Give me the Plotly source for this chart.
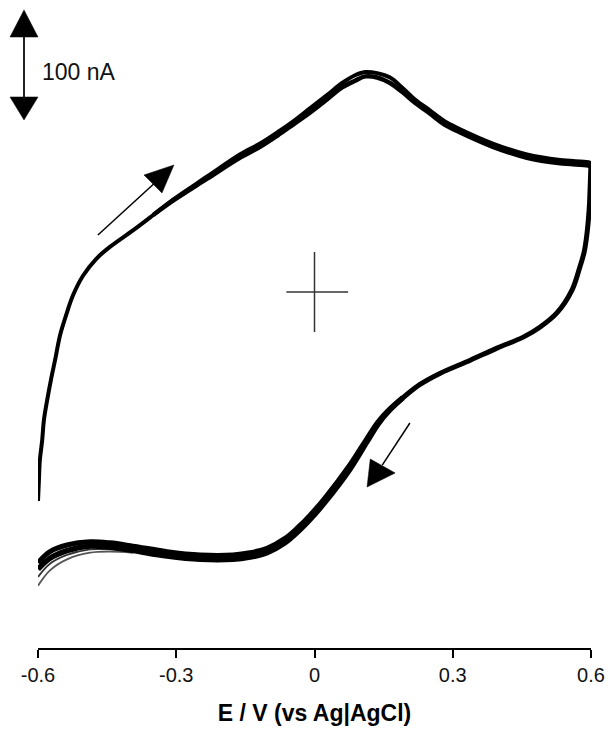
import plotly.graph_objects as go

# Potential (V vs Ag|AgCl) and current (nA) - forward (anodic) scan
E_fwd = [-0.600, -0.598, -0.596, -0.591, -0.587, -0.580, -0.572, -0.563, -0.552, -0.539,
         -0.524, -0.502, -0.474, -0.444, -0.394, -0.350, -0.307, -0.233, -0.162, -0.118,
         -0.081, -0.047, -0.010, 0.027, 0.060, 0.088, 0.110, 0.136, 0.164, 0.190,
         0.218, 0.251, 0.283, 0.316, 0.387, 0.461, 0.533, 0.594, 0.600]
I_fwd = [-190, -171, -153, -135, -116, -98, -80, -62, -39, -21,
         -3, 15, 30, 41, 56, 70, 84, 105, 125, 135,
         145, 155, 167, 179, 190, 197, 200, 199, 195, 186,
         175, 165, 155, 148, 135, 125, 120, 118, 117]

# another (overlapping) forward cycle
E_fwd2 = [-0.350, -0.307, -0.233, -0.162, -0.118, -0.081, -0.047, -0.010, 0.027, 0.060,
          0.088, 0.110, 0.136, 0.164, 0.190, 0.218, 0.251, 0.283, 0.316, 0.387,
          0.461, 0.533, 0.594, 0.600]
I_fwd2 = [70, 83, 103, 122, 132, 142, 152, 163, 175, 186,
          192, 196, 195, 190, 182, 172, 162, 152, 145, 132,
          122, 117, 115, 114]

# Reverse (cathodic) scan
E_rev = [0.600, 0.598, 0.596, 0.591, 0.585, 0.576, 0.559, 0.526, 0.489, 0.453,
         0.396, 0.338, 0.272, 0.229, 0.192, 0.164, 0.138, 0.114, 0.077,
         0.023, -0.010, -0.036, -0.064, -0.103, -0.140, -0.177, -0.248, -0.320,
         -0.394, -0.444, -0.487, -0.537, -0.574, -0.600]
I_rev = [117, 93, 75, 52, 36, 23, 2, -19, -32, -41,
         -51, -62, -74, -84, -96, -106, -118, -133, -157,
         -187, -203, -214, -224, -233, -237, -239, -239, -236,
         -231, -228, -227, -230, -236, -246]

# another (overlapping) reverse cycle
E_rev2 = [0.192, 0.164, 0.138, 0.114, 0.077, 0.023, -0.010, -0.036,
          -0.064, -0.103, -0.140, -0.177, -0.248, -0.320, -0.394, -0.444, -0.487, -0.537,
          -0.574, -0.600]
I_rev2 = [-96, -107, -120, -136, -161, -191, -207, -218,
          -228, -237, -241, -243, -243, -240, -235, -232, -231, -235,
          -242, -252]

# diverging tails of the remaining cycles near -0.6 V
E_tail = [-0.394, -0.444, -0.487, -0.537, -0.574, -0.600]
I_tail_a = [-236, -234, -234, -239, -247, -259]
I_tail_b = [-237, -236, -237, -243, -253, -267]

x_ticks = [-0.6, -0.3, 0, 0.3, 0.6]
x_ticklabels = ["-0.6", "-0.3", "0", "0.3", "0.6"]

fig = go.Figure()
def add_line(x, y, width, color="black"):
    fig.add_trace(go.Scatter(x=x, y=y, mode="lines", hoverinfo="skip",
                             line=dict(color=color, width=width, shape="spline", smoothing=1.0),
                             showlegend=False))

for It, col in ((I_tail_b, "#555"), (I_tail_a, "#333")):
    add_line(E_tail, It, 1.8, col)
add_line(E_fwd2, I_fwd2, 4.5)
add_line(E_fwd, I_fwd, 4)
add_line(E_rev2, I_rev2, 5.5)
add_line(E_rev, I_rev, 5)

shapes = []
# origin cross
shapes.append(dict(type="line", xref="x", yref="y", x0=-0.061, x1=0.073, y0=0, y1=0,
                   line=dict(color="#333", width=1.5)))
shapes.append(dict(type="line", xref="x", yref="y", x0=0, x1=0, y0=-36.4, y1=36.4,
                   line=dict(color="#333", width=1.5)))
# scan direction arrows
shapes.append(dict(type="line", xref="x", yref="y", x0=-0.470, y0=51.8, x1=-0.349, y1=98.2,
                   line=dict(color="black", width=1.5)))
shapes.append(dict(type="path", xref="x", yref="y",
                   path="M -0.370,106.4 L -0.305,115.5 L -0.331,90.0 Z",
                   fillcolor="black", line=dict(color="black", width=0.5)))
shapes.append(dict(type="line", xref="x", yref="y", x0=0.207, y0=-119.1, x1=0.147, y1=-157.3,
                   line=dict(color="black", width=1.5)))
shapes.append(dict(type="path", xref="x", yref="y",
                   path="M 0.121,-151.8 L 0.114,-177.3 L 0.175,-164.5 Z",
                   fillcolor="black", line=dict(color="black", width=0.5)))
# 100 nA scale bar
shapes.append(dict(type="line", xref="paper", yref="y", x0=-0.0253, x1=-0.0253, y0=231.8, y1=177.3,
                   line=dict(color="#222", width=2)))
shapes.append(dict(type="path", xref="paper", yref="y",
                   path="M -0.0253,256.4 L -0.0506,231.8 L 0.0,231.8 Z",
                   fillcolor="black", line=dict(color="black", width=0.5)))
shapes.append(dict(type="path", xref="paper", yref="y",
                   path="M -0.0253,156.4 L -0.0506,177.3 L 0.0,177.3 Z",
                   fillcolor="black", line=dict(color="black", width=0.5)))

fig.update_layout(
    width=608, height=736,
    margin=dict(l=38, r=17, t=0, b=88),
    paper_bgcolor="white", plot_bgcolor="white",
    font=dict(family="Liberation Sans, Arial, sans-serif", color="black"),
    shapes=shapes,
    annotations=[dict(text="100 nA", xref="paper", yref="y", x=0.004, y=200,
                      xanchor="left", yanchor="middle", showarrow=False,
                      font=dict(size=23, color="#111"))],
    xaxis=dict(range=[-0.6, 0.6], tickvals=x_ticks, ticktext=x_ticklabels,
               showline=True, linecolor="black", linewidth=2, ticks="outside",
               ticklen=8, tickwidth=2, tickcolor="black", showgrid=False, zeroline=False,
               tickfont=dict(size=20, color="#111"), fixedrange=True,
               title=dict(text="<b>E / V (vs Ag|AgCl)</b>",
                          font=dict(size=23), standoff=20)),
    yaxis=dict(range=[-323.6, 265.45], visible=False, fixedrange=True),
)
fig.write_html("out.html")
